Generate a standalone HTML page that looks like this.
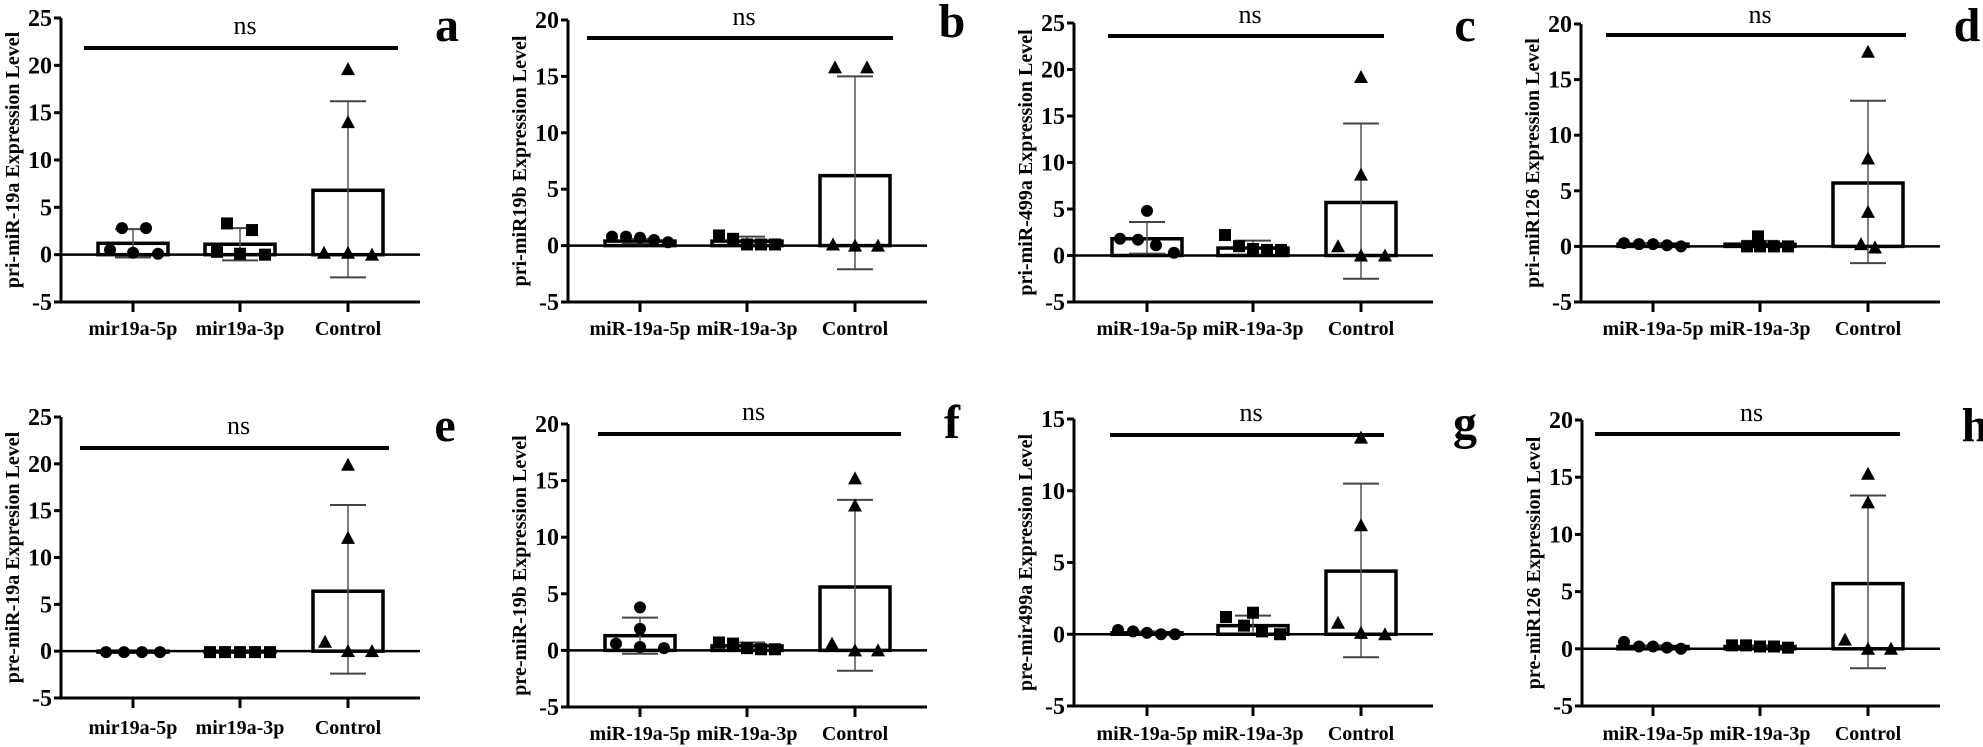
<!DOCTYPE html>
<html><head><meta charset="utf-8"><style>html,body{margin:0;padding:0;background:#fff;}svg{display:block}
svg text{font-family:"Liberation Serif","DejaVu Serif",serif;font-weight:bold;}
svg text.n{font-weight:normal;}</style></head>
<body>
<svg id="s" width="1983" height="747" xmlns="http://www.w3.org/2000/svg"></svg>
<script>
const P=[
{ax:61,top:18,bot:302,ymax:25,xEnd:420,c:[133,240,348],ns:[84,398,48,27],L:['a',447,27],xl:328,yl:'pri-miR-19a  Expression Level',cats:['mir19a-5p','mir19a-3p','Control'],
 g:[[1.2,2.7,-0.3,[[-23,0.5],[-11,2.8],[0,0.2],[13,2.8],[25,0.1]]],[1.1,2.8,-0.6,[[-23,0.3],[-13,3.3],[0,0.1],[12,2.6],[25,0.0]]],[6.8,16.2,-2.4,[[-24,0.2],[0,19.6],[0,14],[0,0.2],[24,0.0]]]]},
{ax:568,top:20,bot:302,ymax:20,xEnd:927,c:[640,747,855],ns:[587,893,38,18],L:['b',952,23],xl:328,yl:'pri-miR19b  Expression Level',cats:['miR-19a-5p','miR-19a-3p','Control'],
 g:[[0.4,0.6,0.2,[[-28,0.8],[-14,0.8],[0,0.7],[14,0.5],[28,0.3]]],[0.4,0.8,0.1,[[-28,0.9],[-14,0.6],[0,0.1],[14,0.1],[28,0.1]]],[6.2,15,-2.1,[[-22,0.1],[-20,15.8],[0,0],[12,15.8],[23,0]]]]},
{ax:1074,top:23,bot:302,ymax:25,xEnd:1433,c:[1147,1253,1361],ns:[1108,1384,36,16],L:['c',1465,27],xl:328,yl:'pri-miR-499a  Expression  Level',cats:['miR-19a-5p','miR-19a-3p','Control'],
 g:[[1.8,3.6,0.2,[[-27,1.8],[-9,1.7],[0,4.8],[9,1.1],[27,0.3]]],[0.8,1.6,0.1,[[-28,2.2],[-14,1.0],[0,0.7],[14,0.6],[28,0.6]]],[5.7,14.2,-2.5,[[-23,1.0],[0,19.2],[0,8.7],[0,0],[24,0]]]]},
{ax:1581,top:24,bot:302,ymax:20,xEnd:1940,c:[1653,1760,1868],ns:[1606,1906,35,16],L:['d',1967,27],xl:328,yl:'pri-miR126 Expression Level',cats:['miR-19a-5p','miR-19a-3p','Control'],
 g:[[0.2,0.3,0.1,[[-29,0.3],[-14,0.2],[0,0.2],[14,0.1],[28,0.0]]],[0.2,0.5,0,[[-2,0.9],[-13,0],[0,0],[14,0],[28,0]]],[5.7,13.1,-1.5,[[0,17.5],[0,7.9],[0,3.1],[-7,0.2],[7,-0.1]]]]},
{ax:61,top:417,bot:698,ymax:25,xEnd:420,c:[133,240,348],ns:[80,389,448,427],L:['e',445,427],xl:727,yl:'pre-miR-19a  Expresion Level',cats:['mir19a-5p','mir19a-3p','Control'],
 g:[[-0.1,0,0,[[-27,-0.1],[-9,-0.1],[9,-0.1],[27,-0.1]]],[-0.1,0,0,[[-30,-0.1],[-15,-0.1],[0,-0.1],[15,-0.1],[30,-0.1]]],[6.4,15.6,-2.4,[[-23,1.0],[0,19.9],[0,12.1],[0,0],[24,0]]]]},
{ax:568,top:424,bot:707,ymax:20,xEnd:927,c:[640,747,855],ns:[598,901,434,413],L:['f',952,424],xl:733,yl:'pre-miR-19b Expression Level',cats:['miR-19a-5p','miR-19a-3p','Control'],
 g:[[1.3,2.9,-0.3,[[-24,0.6],[0,3.8],[0,1.9],[0,0.3],[24,0.2]]],[0.4,0.7,0.1,[[-28,0.7],[-14,0.6],[0,0.2],[14,0.1],[28,0.1]]],[5.6,13.3,-1.8,[[-23,0.6],[0,15.2],[0,12.8],[0,0],[23,0]]]]},
{ax:1074,top:419,bot:706,ymax:15,xEnd:1433,c:[1147,1253,1361],ns:[1110,1384,435,414],L:['g',1465,425],xl:733,yl:'pre-mir499a  Expression Level',cats:['miR-19a-5p','miR-19a-3p','Control'],
 g:[[0.1,0.2,0,[[-29,0.3],[-14,0.2],[0,0.1],[14,0],[28,0]]],[0.6,1.3,0,[[-27,1.2],[-9,0.6],[0,1.5],[9,0.2],[27,0.0]]],[4.4,10.5,-1.6,[[-23,0.8],[0,13.7],[0,7.6],[0,0.1],[24,0]]]]},
{ax:1582,top:420,bot:706,ymax:20,xEnd:1940,c:[1653,1760,1868],ns:[1595,1900,434,414],L:['h',1975,427],xl:733,yl:'pre-miR126 Expression Level',cats:['miR-19a-5p','miR-19a-3p','Control'],
 g:[[0.2,0.3,0.1,[[-29,0.6],[-14,0.2],[0,0.2],[14,0.1],[28,0]]],[0.2,0.3,0.1,[[-28,0.3],[-14,0.3],[0,0.2],[14,0.2],[28,0.1]]],[5.7,13.4,-1.7,[[-23,0.8],[0,15.3],[0,12.8],[0,0],[23,0]]]]}
];
let o='';
for(const p of P){
 const Y=v=>p.top+(p.ymax-v)*(p.bot-p.top)/(p.ymax+5);
 const y0=Y(0);
 p.g.forEach((g,i)=>{
  const cx=p.c[i],yb=Y(g[0]);
  o+=`<rect x="${cx-35}" y="${Math.min(yb,y0)}" width="70" height="${Math.abs(y0-yb)}" fill="#fff" stroke="#000" stroke-width="3.5"/>`;
  if(g[1]!==g[2]){
   o+=`<line x1="${cx}" y1="${Y(g[1])}" x2="${cx}" y2="${Y(g[2])}" stroke="#555" stroke-width="1.5"/>`;
   o+=`<line x1="${cx-18}" y1="${Y(g[1])}" x2="${cx+18}" y2="${Y(g[1])}" stroke="#444" stroke-width="2"/>`;
   o+=`<line x1="${cx-18}" y1="${Y(g[2])}" x2="${cx+18}" y2="${Y(g[2])}" stroke="#444" stroke-width="2"/>`;
  }
 });
 o+=`<line x1="${p.ax}" y1="${p.top}" x2="${p.ax}" y2="${p.bot}" stroke="#000" stroke-width="3"/>`;
 o+=`<line x1="${p.ax}" y1="${p.bot}" x2="${p.xEnd}" y2="${p.bot}" stroke="#000" stroke-width="3"/>`;
 o+=`<line x1="${p.ax}" y1="${y0}" x2="${p.xEnd}" y2="${y0}" stroke="#000" stroke-width="2.5"/>`;
 for(let v=-5;v<=p.ymax;v+=5){const y=Y(v);
  o+=`<line x1="${p.ax-7}" y1="${y}" x2="${p.ax}" y2="${y}" stroke="#000" stroke-width="3"/>`;
  o+=`<text x="${p.ax-9}" y="${y+8}" font-size="24" text-anchor="end">${v}</text>`;}
 p.c.forEach((cx,i)=>{
  o+=`<line x1="${cx}" y1="${p.bot}" x2="${cx}" y2="${p.bot+10}" stroke="#000" stroke-width="3"/>`;
  o+=`<text x="${cx}" y="${p.xl+7}" font-size="20" text-anchor="middle">${p.cats[i]}</text>`;
 });
 p.g.forEach((g,i)=>{
  const cx=p.c[i];
  for(const [dx,v] of g[3]){const x=cx+dx,y=Y(v);
   if(i==0) o+=`<circle cx="${x}" cy="${y}" r="6" fill="#000"/>`;
   else if(i==1) o+=`<rect x="${x-6}" y="${y-6}" width="12" height="12" fill="#000"/>`;
   else o+=`<polygon points="${x},${y-7} ${x-7},${y+6} ${x+7},${y+6}" fill="#000"/>`;
  }
 });
 o+=`<line x1="${p.ns[0]}" y1="${p.ns[2]}" x2="${p.ns[1]}" y2="${p.ns[2]}" stroke="#000" stroke-width="4"/>`;
 o+=`<text class="n" x="${(p.ns[0]+p.ns[1])/2+4}" y="${p.ns[3]+7}" font-size="26" text-anchor="middle">ns</text>`;
 o+=`<text x="${p.L[1]}" y="${p.L[2]+14}" font-size="48" text-anchor="middle">${p.L[0]}</text>`;
 const ym=(p.top+p.bot)/2;
 o+=`<text transform="translate(${p.ax-42},${ym}) rotate(-90)" font-size="20" text-anchor="middle">${p.yl}</text>`;
}
document.getElementById('s').innerHTML=o;
</script>
</body></html>
